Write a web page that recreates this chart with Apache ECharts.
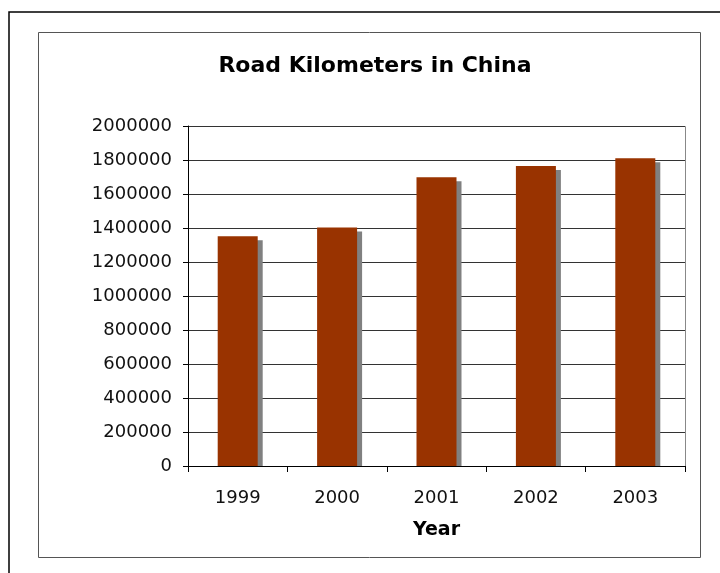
<!DOCTYPE html>
<html>
<head>
<meta charset="utf-8">
<script src="https://cdn.jsdelivr.net/npm/echarts@6/dist/echarts.min.js"></script>
<style>html,body{margin:0;padding:0;background:#fff;}#c{width:720px;height:573px;}</style>
</head>
<body>
<div id="c"></div>
<script>
const years = ['1999', '2000', '2001', '2002', '2003'];
const roadKm = [1351691, 1402698, 1698012, 1765222, 1809828];
const yTicks = { min: 0, max: 2000000, interval: 200000 };
const titleText = 'Road Kilometers in China';
const xAxisTitle = 'Year';

const chart = echarts.init(document.getElementById('c'), null, { renderer: 'canvas' });
const font = 'DejaVu Sans, Verdana, sans-serif';
chart.setOption({
  animation: false,
  backgroundColor: '#fff',
  title: {
    text: titleText, left: 370, top: 50, textAlign: 'center',
    textStyle: { fontFamily: font, fontWeight: 'bold', fontSize: 22, color: '#000' }
  },
  graphic: [
    { type: 'rect', shape: { x: 9, y: 12, width: 800, height: 700 }, style: { fill: 'none', stroke: '#000', lineWidth: 1.5 }, z: 0 },
    { type: 'rect', shape: { x: 38.5, y: 32.5, width: 662, height: 525 }, style: { fill: 'none', stroke: '#555', lineWidth: 1 }, z: 0 },
    { type: 'rect', shape: { x: 188.5, y: 126.5, width: 497, height: 340 }, style: { fill: 'none', stroke: '#888', lineWidth: 1 }, z: 0 },
    { type: 'rect', shape: { x: 189, y: 467, width: 496, height: 6 }, style: { fill: '#fff' }, z: 4 }
  ],
  grid: { left: 188, right: 35, top: 126, bottom: 107, containLabel: false },
  xAxis: {
    type: 'category', data: years, boundaryGap: true, z: 6,
    name: xAxisTitle, nameLocation: 'middle', nameGap: 55,
    nameTextStyle: { fontFamily: font, fontWeight: 'bold', fontSize: 19, color: '#000' },
    axisLine: { lineStyle: { color: '#000', width: 1 } },
    axisTick: { show: true, length: 6, alignWithLabel: false, lineStyle: { color: '#000' } },
    axisLabel: { fontFamily: font, fontSize: 18, color: '#111', margin: 23 }
  },
  yAxis: {
    type: 'value', min: yTicks.min, max: yTicks.max, interval: yTicks.interval,
    axisLine: { show: true, lineStyle: { color: '#000', width: 1 } },
    axisTick: { show: true, length: 5, lineStyle: { color: '#000' } },
    axisLabel: { fontFamily: font, fontSize: 18, color: '#111', margin: 16, formatter: v => String(v) },
    splitLine: { show: true, lineStyle: { color: '#333', width: 1 } }
  },
  series: [{
    type: 'bar', data: roadKm, barWidth: 40,
    itemStyle: { color: '#993300', shadowColor: '#808080', shadowBlur: 0, shadowOffsetX: 5, shadowOffsetY: 4 }
  }]
});
</script>
</body>
</html>
